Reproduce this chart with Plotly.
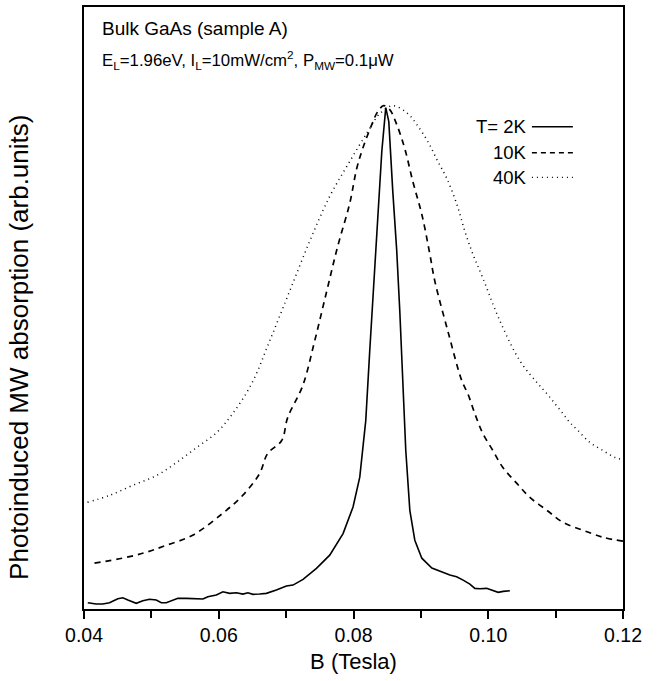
import plotly.graph_objects as go

# ---- data (B in Tesla, signal in arb. units 0-100) ----
b_2k = [0.04056, 0.04181, 0.04279, 0.04379, 0.04502, 0.04576, 0.04651, 0.04775, 0.04874, 0.04973,
        0.05073, 0.05147, 0.05221, 0.05295, 0.05394, 0.05518, 0.05667, 0.05765, 0.05839, 0.05964,
        0.06062, 0.06162, 0.06261, 0.06359, 0.06433, 0.06508, 0.06607, 0.06707, 0.06855, 0.07004,
        0.07102, 0.07251, 0.07450, 0.07647, 0.07845, 0.07993, 0.08093, 0.08182, 0.08241, 0.08301,
        0.08360, 0.08420, 0.08479, 0.08524, 0.08583, 0.08642, 0.08687, 0.08732, 0.08776, 0.08836,
        0.08910, 0.09014, 0.09163, 0.09430, 0.09530, 0.09627, 0.09727, 0.09801, 0.09876, 0.09975,
        0.10049, 0.10147, 0.10222, 0.10321]
s_2k = [1.04, 0.83, 0.83, 1.04, 1.71, 1.87, 1.49, 0.94, 1.37, 1.61,
        1.49, 1.04, 1.04, 1.32, 1.77, 1.77, 1.66, 1.66, 2.04, 2.32,
        2.86, 2.60, 2.70, 2.48, 2.70, 2.43, 2.48, 2.60, 3.15, 3.81,
        3.97, 4.92, 6.74, 8.94, 12.53, 16.94, 21.90, 31.29, 42.88, 54.47,
        66.06, 75.99, 83.28, 80.96, 69.37, 59.44, 49.50, 36.26, 26.32, 16.39,
        11.42, 8.44, 6.79, 5.63, 5.35, 4.80, 4.14, 3.43, 3.36, 3.43,
        3.15, 2.76, 2.93, 3.03]

b_10k = [0.04156, 0.04572, 0.04929, 0.05226, 0.05612, 0.06058, 0.06355, 0.06607, 0.06726, 0.06934,
         0.07023, 0.07246, 0.07424, 0.07603, 0.07766, 0.07944, 0.08048, 0.08137, 0.08271, 0.08360,
         0.08449, 0.08538, 0.08642, 0.08761, 0.08880, 0.09014, 0.09133, 0.09207, 0.09400, 0.09608,
         0.09697, 0.09801, 0.09920, 0.10069, 0.10217, 0.10425, 0.10618, 0.10871, 0.11109, 0.11406,
         0.11703, 0.12000]
s_10k = [7.62, 8.44, 9.44, 10.60, 12.25, 15.89, 18.87, 22.52, 25.83, 27.98,
         31.79, 37.09, 44.54, 52.81, 60.26, 67.38, 73.18, 76.49, 80.46, 82.62,
         83.61, 82.95, 80.46, 76.49, 71.03, 65.56, 58.94, 54.47, 46.19, 37.91,
         35.76, 32.45, 29.14, 26.32, 23.51, 20.86, 18.54, 16.39, 14.40, 13.08,
         11.92, 11.26]

b_40k = [0.04052, 0.04379, 0.04721, 0.05077, 0.05374, 0.05671, 0.05968, 0.06206, 0.06488, 0.06756,
         0.07053, 0.07350, 0.07647, 0.07944, 0.08212, 0.08390, 0.08583, 0.08806, 0.08940, 0.09103,
         0.09252, 0.09385, 0.09534, 0.09653, 0.09772, 0.09920, 0.10173, 0.10470, 0.10737, 0.10871,
         0.10990, 0.11109, 0.11213, 0.11332, 0.11510, 0.11703, 0.11881, 0.12000]
s_40k = [17.72, 18.87, 20.53, 22.19, 24.34, 26.82, 29.30, 32.45, 37.42, 44.54,
         52.81, 61.09, 68.54, 74.34, 79.30, 82.28, 83.61, 82.28, 80.46, 77.65,
         74.34, 71.52, 67.22, 62.75, 58.94, 54.97, 47.85, 41.23, 37.42, 35.76,
         34.11, 32.45, 30.96, 29.64, 27.65, 26.32, 25.17, 24.83]

x_tick_vals = [0.04, 0.06, 0.08, 0.10, 0.12]
x_tick_text = ["0.04", "0.06", "0.08", "0.10", "0.12"]
x_minor_vals = [0.05, 0.07, 0.09, 0.11]
legend_labels = ["T= 2K", "10K", "40K"]

FONT = "Liberation Sans, Arial, sans-serif"

fig = go.Figure()
fig.add_trace(go.Scatter(x=b_40k, y=s_40k, mode="lines", line_shape="spline",
                         line=dict(color="black", width=1.5, dash="1px,4px"), showlegend=False))
fig.add_trace(go.Scatter(x=b_10k, y=s_10k, mode="lines", line_shape="spline",
                         line=dict(color="black", width=1.7, dash="6px,5px"), showlegend=False))
fig.add_trace(go.Scatter(x=b_2k, y=s_2k, mode="lines",
                         line=dict(color="black", width=1.6), showlegend=False))

fig.update_layout(
    width=658, height=681,
    margin=dict(l=84, r=35, t=5, b=72),
    paper_bgcolor="white", plot_bgcolor="white",
    font=dict(family=FONT, color="black"),
    xaxis=dict(range=[0.04, 0.12], tickvals=x_tick_vals, ticktext=x_tick_text,
               ticks="outside", ticklen=8, tickwidth=2, tickcolor="black",
               minor=dict(tickvals=x_minor_vals, ticks="outside", ticklen=7, tickwidth=2, tickcolor="black"),
               showline=True, linewidth=2, linecolor="black", mirror=True,
               showgrid=False, zeroline=False, tickfont=dict(size=19.5, family=FONT),
               title=dict(text="B (Tesla)", font=dict(size=22, family=FONT), standoff=8)),
    yaxis=dict(range=[0, 100], showticklabels=False, ticks="",
               showline=True, linewidth=2, linecolor="black", mirror=True,
               showgrid=False, zeroline=False),
)

fig.add_annotation(x=-0.121, y=0.435, xref="paper", yref="paper", textangle=-90,
                   text="Photoinduced MW absorption (arb.units)", showarrow=False,
                   font=dict(size=26, family=FONT), xanchor="center", yanchor="middle")
fig.add_annotation(x=0.029, y=0.965, xref="paper", yref="paper", xanchor="left", yanchor="middle",
                   text="Bulk GaAs (sample A)", showarrow=False, font=dict(size=19, family=FONT))
fig.add_annotation(x=0.029, y=0.912, xref="paper", yref="paper", xanchor="left", yanchor="middle",
                   text="E<sub>L</sub>=1.96eV, I<sub>L</sub>=10mW/cm<sup>2</sup>, P<sub>MW</sub>=0.1\u03bcW",
                   showarrow=False, font=dict(size=16.8, family=FONT))

leg_y = [0.801, 0.758, 0.717]
leg_dash = ["solid", "5px,4px", "1px,4px"]
for lab, yy, dd in zip(legend_labels, leg_y, leg_dash):
    fig.add_annotation(x=0.826, y=yy, xref="paper", yref="paper", xanchor="right", yanchor="middle",
                       text=lab, showarrow=False, font=dict(size=18.5, family=FONT))
    fig.add_shape(type="line", xref="paper", yref="paper", x0=0.831, x1=0.907, y0=yy, y1=yy,
                  line=dict(color="black", width=1.4, dash=dd))

fig.write_html("out.html")
